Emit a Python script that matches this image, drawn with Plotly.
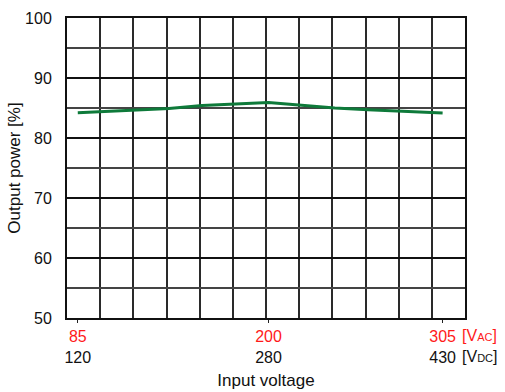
import plotly.graph_objects as go

# Input voltage (AC) and measured output power
voltage_ac = [85, 100, 120, 140, 160, 180, 200, 220, 240, 260, 280, 305]
output_power = [84.2, 84.4, 84.65, 84.9, 85.4, 85.7, 85.9, 85.45, 85.0, 84.7, 84.45, 84.15]

# Axis labels: AC voltage (red) over the equivalent DC voltage (black)
tick_ac = [85, 200, 305]
tick_dc = [120, 280, 430]
y_ticks = [50, 60, 70, 80, 90, 100]

FONT = "Liberation Sans, Arial, sans-serif"
RED = "#ff1a1a"

fig = go.Figure()
fig.add_trace(go.Scatter(
    x=voltage_ac, y=output_power, mode="lines",
    line=dict(color="#0e7a3a", width=3),
    showlegend=False, hoverinfo="skip",
))

ticktext = [f"<span style='color:{RED}'>{a}</span><br>{d}" for a, d in zip(tick_ac, tick_dc)]

fig.update_layout(
    width=505, height=392,
    margin=dict(l=67, r=40, t=18, b=74),
    paper_bgcolor="white", plot_bgcolor="white",
    font=dict(family=FONT, size=16, color="#111"),
    xaxis=dict(
        range=[78.5, 318.5], automargin=False,
        tickvals=tick_ac, ticktext=ticktext,
        showgrid=False, zeroline=False,
        ticks="outside", ticklen=3, tickcolor="#222",
        showline=True, linecolor="#111", linewidth=2, mirror=True,
        minor=dict(tick0=78.5, dtick=20, showgrid=True,
                   gridcolor="#2a2a2a", gridwidth=1.5, ticks=""),
        title=dict(text="Input voltage", font=dict(size=17), standoff=9),
    ),
    yaxis=dict(
        range=[50, 100], automargin=False,
        tickvals=y_ticks,
        showgrid=True, gridcolor="#111", gridwidth=1.5,
        zeroline=False, ticks="", ticklabelstandoff=10,
        showline=True, linecolor="#111", linewidth=2, mirror=True,
        minor=dict(dtick=5, showgrid=True, gridcolor="#444", gridwidth=1.5, ticks=""),
        title=dict(text="Output power [%]", font=dict(size=17), standoff=0),
    ),
)

# Unit labels placed after the right-most tick values
fig.add_annotation(
    x=305, xref="x", y=0, yref="paper",
    xanchor="left", yanchor="top", xshift=17, yshift=-7,
    text=f"<span style='color:{RED}'>[V<span style='font-size:11px'>AC</span>]</span><br>[V<span style='font-size:11px'>DC</span>]",
    showarrow=False, align="left", font=dict(size=16, color="#111"),
)

fig.write_html("out.html")
